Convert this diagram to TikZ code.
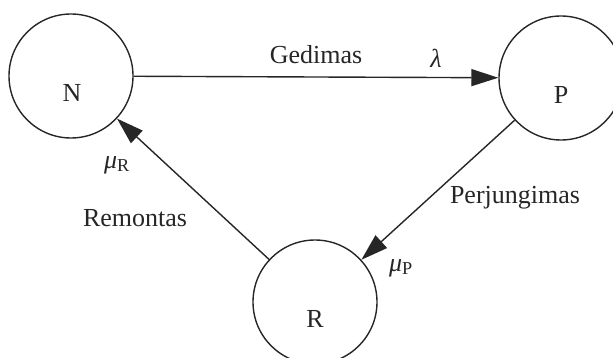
\documentclass[tikz,border=0pt]{standalone}
\usepackage{fontspec}
\setmainfont{Liberation Serif}
\usetikzlibrary{arrows.meta,calc}
\definecolor{ink}{HTML}{262626}
\tikzset{
  statecirc/.style={circle,draw=ink,line width=1.4pt,minimum size=124pt,inner sep=0pt},
  lbl/.style={text=ink,font=\fontsize{26}{30}\selectfont,inner sep=0pt},
  conn/.style={draw=ink,line width=1.4pt,-{Triangle[length=27pt,width=17pt]}}
}
\begin{document}
\begin{tikzpicture}[x=1pt,y=-1pt]
\useasboundingbox (0,0) rectangle (613,358);
\node[statecirc] (N) at (71,76) {};
\node[statecirc] (P) at (561,78) {};
\node[statecirc] (R) at (315,302) {};
\node[lbl] (tN) at ($(N)+(1,17)$) {N};
\node[lbl] (tP) at ($(P)+(0,17)$) {P};
\node[lbl] (tR) at ($(R)+(0,17)$) {R};
\draw[conn] (N) -- (P);
\draw[conn] (P) -- (R);
\draw[conn] (R) -- (N);
\node[lbl] (gedimas) at (316,55) {Gedimas};
\node[lbl] (lambda) at (436,58) {\textit{λ}};
\node[lbl] (muR) at (117,165) {\textit{μ}\textsubscript{R}};
\node[lbl] (remontas) at (135,218) {Remontas};
\node[lbl] (perj) at (515,198) {Perjungimas};
\node[lbl] (muP) at (401,268) {\textit{μ}\textsubscript{P}};
\end{tikzpicture}
\end{document}
